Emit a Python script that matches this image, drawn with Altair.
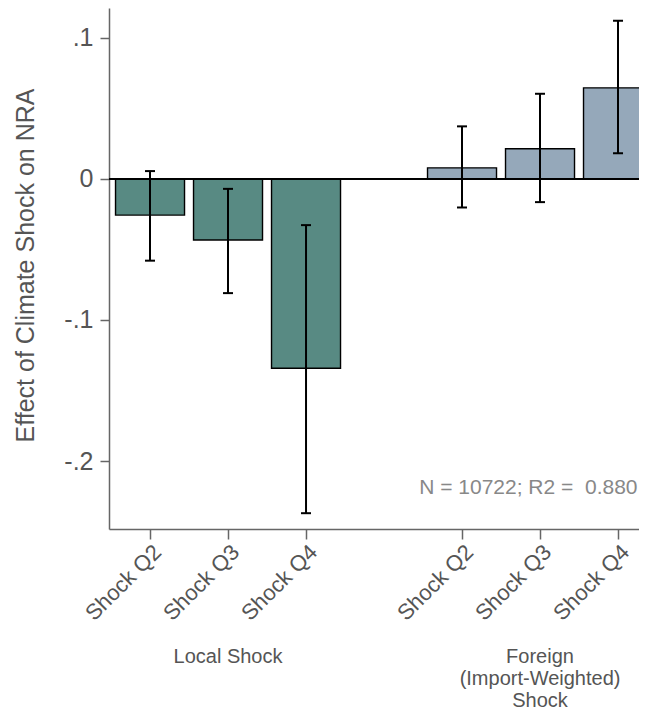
import altair as alt
import pandas as pd

# ---- data ----
positions = [1, 2, 3, 5, 6, 7]
tick_labels = ["Shock Q2", "Shock Q3", "Shock Q4", "Shock Q2", "Shock Q3", "Shock Q4"]
groups = ["Local", "Local", "Local", "Foreign", "Foreign", "Foreign"]
estimates = [-0.0257, -0.0433, -0.1343, 0.0078, 0.0213, 0.0645]
ci_low = [-0.058, -0.081, -0.237, -0.0203, -0.0165, 0.0182]
ci_high = [0.0055, -0.0071, -0.0328, 0.0372, 0.0603, 0.112]

group_names = ["Local", "Foreign"]
group_colors = ["#588a83", "#95a8ba"]
group_label_pos = [2, 6]
group_label_text = ["Local Shock", "Foreign\n(Import-Weighted)\nShock"]

annotation = "N = 10722; R2 =\u00a0 0.880"

df = pd.DataFrame({
    "pos": positions, "label": tick_labels, "group": groups,
    "est": estimates, "lo": ci_low, "hi": ci_high,
})
gdf = pd.DataFrame({"pos": group_label_pos, "text": group_label_text})
adf = pd.DataFrame({"pos": [7.25], "y": [-0.2194], "text": [annotation]})

FONT = "Liberation Sans"
label_map = "{" + ",".join(f"'{p}':'{l}'" for p, l in zip(positions, tick_labels)) + "}"

xscale = alt.Scale(domain=[0.474, 7.269], nice=False, zero=False, padding=0)
yscale = alt.Scale(domain=[-0.2482, 0.1211], nice=False, zero=False, padding=0)

x_axis = alt.Axis(values=positions, labelExpr=f"{label_map}[datum.value + '']",
                  labelAngle=-45, labelFontSize=22, labelColor="#555555",
                  tickSize=10, tickColor="#666666", domainColor="#666666",
                  domainWidth=1.5, tickWidth=1.5, grid=False, title=None,
                  labelPadding=2, labelFont=FONT, labelOverlap=False,
                  labelBound=False, labelFlush=False)
y_axis = alt.Axis(values=[0.1, 0, -0.1, -0.2],
                  labelExpr="datum.value == 0 ? '0' : (datum.value < 0 ? '-' : '') + replace(format(abs(datum.value), '.1f'), '0.', '.')",
                  labelFontSize=25, labelColor="#555555", tickSize=9,
                  tickColor="#666666", domainColor="#666666", domainWidth=1.5,
                  tickWidth=1.5, grid=False, labelPadding=7, labelFont=FONT,
                  labelOverlap=False,
                  title="Effect of Climate Shock on NRA", titleFontSize=25,
                  titleColor="#555555", titleFontWeight="normal", titleFont=FONT,
                  titleAngle=-90, titleX=-84, titleY=257, titleAlign="center",
                  titleBaseline="middle")

X = lambda f: alt.X(f, type="quantitative", scale=xscale, axis=x_axis)
Y = lambda f: alt.Y(f, type="quantitative", scale=yscale, axis=y_axis)

base = alt.Chart(df)

bars = base.mark_bar(size=69, stroke="black", strokeWidth=1.4, orient="vertical").encode(
    x=X("pos"),
    y=Y("est"),
    y2=alt.datum(0),
    color=alt.Color("group:N", scale=alt.Scale(domain=group_names, range=group_colors), legend=None),
)

zero = alt.Chart(df).mark_rule(color="black", strokeWidth=1.5).encode(y=alt.datum(0))

err = base.mark_rule(color="black", strokeWidth=2).encode(
    x=X("pos"), y=Y("lo"), y2="hi:Q",
)
cap_lo = base.mark_tick(color="black", orient="horizontal", size=10, thickness=2, opacity=1).encode(
    x=X("pos"), y=Y("lo"),
)
cap_hi = base.mark_tick(color="black", orient="horizontal", size=10, thickness=2, opacity=1).encode(
    x=X("pos"), y=Y("hi"),
)

ann = alt.Chart(adf).mark_text(align="right", baseline="middle", fontSize=21,
                               color="#888888", font=FONT).encode(
    x=X("pos"), y=Y("y"), text="text:N",
)

glabels = alt.Chart(gdf).mark_text(align="center", baseline="alphabetic", fontSize=20,
                                   color="#555555", font=FONT, lineBreak="\n",
                                   lineHeight=22).encode(
    x=X("pos"),
    y=alt.datum(-0.3435),
    text="text:N",
)

chart = alt.layer(bars, zero, err, cap_lo, cap_hi, ann, glabels).properties(
    width=530, height=521,
    autosize=alt.AutoSizeParams(type="none"),
    padding={"left": 101, "top": 0, "right": 0, "bottom": 185},
    background="white",
).configure_view(stroke=None)

chart.save("out.html", embed_options={"renderer": "svg", "actions": False})
